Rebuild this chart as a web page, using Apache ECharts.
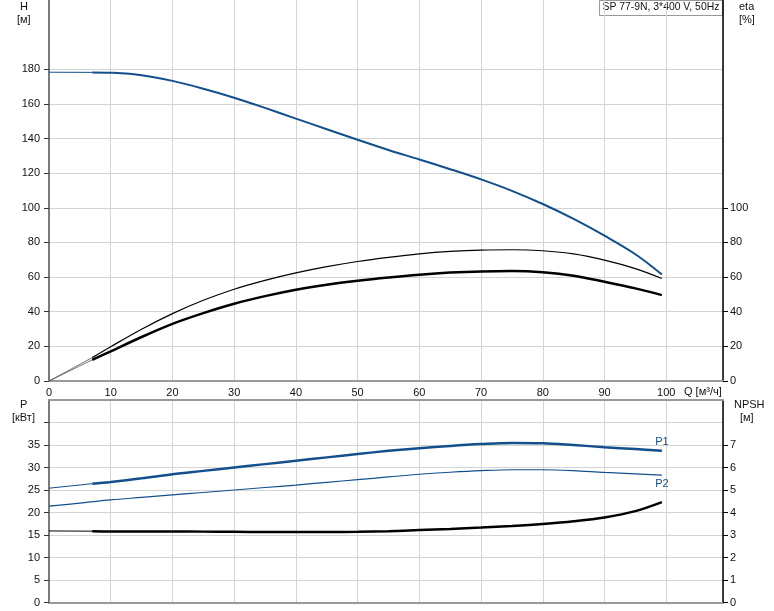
<!DOCTYPE html>
<html>
<head>
<meta charset="utf-8">
<script src="https://cdn.jsdelivr.net/npm/echarts@6/dist/echarts.min.js"></script>
<style>
html,body{margin:0;padding:0;background:#fff;}
#chart{width:774px;height:611px;}
</style>
</head>
<body>
<div id="chart"></div>
<script>
// ---- data ----
const title = 'SP 77-9N, 3*400 V, 50Hz';
const qTicks = [0, 10, 20, 30, 40, 50, 60, 70, 80, 90, 100];
const hTicks = [0, 20, 40, 60, 80, 100, 120, 140, 160, 180];
const etaTicks = [0, 20, 40, 60, 80, 100];
const pTicks = [0, 5, 10, 15, 20, 25, 30, 35];
const pTickMarks = [0, 5, 10, 15, 20, 25, 30, 35, 40];
const npshTicks = [0, 1, 2, 3, 4, 5, 6, 7];

// extrapolated start segments (thin)
const qExt = [0, 7];
const hExt = [178.3, 178.2];
const etaPumpExt = [0, 13.5];
const etaTotalExt = [0, 12.2];
const p1Ext = [25.4, 26.4];
const npshExt = [3.18, 3.17];

// main curves (Q in m³/h)
const qMain = [7, 10, 15, 20, 25, 30, 35, 40, 45, 50, 55, 60, 65, 70, 75, 80, 85, 90, 95, 99.3];
const hVals = [178.2, 178, 176.6, 173.3, 168.8, 163.6, 157.7, 151.5, 145.4, 139.3, 133.4, 127.9, 122.3, 116.4, 109.8, 102.2, 93.6, 83.9, 73.2, 61.5];
const etaPump = [13.5, 19.8, 29.9, 38.9, 46.6, 53, 58.1, 62.4, 66, 69, 71.4, 73.4, 74.8, 75.6, 75.8, 75.2, 73.4, 69.8, 64.9, 59.2];
const etaTotal = [12.2, 17.1, 25.4, 33, 39.2, 44.6, 49, 52.7, 55.6, 57.9, 59.8, 61.4, 62.6, 63.3, 63.5, 62.8, 60.8, 57.3, 53.5, 49.6];
const p1Vals = [26.4, 26.8, 27.6, 28.5, 29.25, 30.0, 30.75, 31.5, 32.25, 33, 33.7, 34.3, 34.8, 35.2, 35.45, 35.4, 35.0, 34.5, 34.1, 33.7];
const npshVals = [3.17, 3.16, 3.16, 3.16, 3.15, 3.14, 3.13, 3.13, 3.13, 3.14, 3.17, 3.22, 3.27, 3.33, 3.4, 3.49, 3.61, 3.78, 4.06, 4.46];

const qP2 = [0, 5, 10, 15, 20, 25, 30, 35, 40, 45, 50, 55, 60, 65, 70, 75, 80, 85, 90, 95, 99.3];
const p2Vals = [21.4, 22.1, 22.8, 23.35, 23.9, 24.45, 25, 25.55, 26.1, 26.7, 27.3, 27.9, 28.5, 28.95, 29.3, 29.5, 29.5, 29.3, 28.9, 28.6, 28.3];

// ---- helpers ----
const zip = (xs, ys) => xs.map((x, i) => [x, ys[i]]);
const BLUE = '#124f8c';
const FONT = 'Liberation Sans';
const gridLine = {show: true, lineStyle: {color: '#d4d4d4', width: 1}};
const labelStyle = {color: '#111', fontSize: 11, fontFamily: FONT};

const chart = echarts.init(document.getElementById('chart'), null, {renderer: 'canvas'});

function line(data, xi, yi, color, width, smooth) {
  return {
    type: 'line', xAxisIndex: xi, yAxisIndex: yi, data: data,
    showSymbol: false, symbol: 'none',
    smooth: smooth === undefined ? 0.35 : smooth,
    lineStyle: {color: color, width: width}, silent: true, animation: false, z: 5
  };
}

function endName(series, text, pos) {
  const lastPt = series.data[series.data.length - 1];
  series.markPoint = {
    silent: true, animation: false,
    symbol: 'circle', symbolSize: 1,
    itemStyle: {color: 'rgba(0,0,0,0)'},
    label: {show: true, formatter: text, position: pos, distance: 3, color: BLUE, fontSize: 11, fontFamily: FONT},
    data: [{coord: lastPt}]
  };
  return series;
}

const option = {
  animation: false,
  backgroundColor: '#fff',
  grid: [
    {left: 49, right: 51, top: 0, height: 381},
    {left: 49, right: 51, top: 400, height: 202.5}
  ],
  xAxis: [
    {gridIndex: 0, type: 'value', min: 0, max: 109.2, interval: 10,
      axisLine: {show: true, onZero: false, lineStyle: {color: '#9a9a9a', width: 2}},
      axisTick: {show: false},
      axisLabel: Object.assign({margin: 6, customValues: qTicks}, labelStyle),
      splitLine: gridLine},
    {gridIndex: 1, type: 'value', min: 0, max: 109.2, interval: 10,
      axisLine: {show: true, onZero: false, lineStyle: {color: '#9a9a9a', width: 2}},
      axisTick: {show: false}, axisLabel: {show: false},
      splitLine: gridLine},
    {gridIndex: 1, type: 'value', position: 'top', min: 0, max: 109.2, interval: 10,
      axisLine: {show: true, onZero: false, lineStyle: {color: '#9a9a9a', width: 2}},
      axisTick: {show: false}, axisLabel: {show: false}, splitLine: {show: false}}
  ],
  yAxis: [
    {gridIndex: 0, type: 'value', min: 0, max: 220, interval: 20, position: 'left',
      axisLine: {show: true, onZero: false, lineStyle: {color: '#7a7a7a', width: 2}},
      axisTick: {show: true, length: 5, customValues: hTicks, lineStyle: {color: '#333'}},
      axisLabel: Object.assign({margin: 9, customValues: hTicks}, labelStyle),
      splitLine: gridLine},
    {gridIndex: 0, type: 'value', min: 0, max: 220, interval: 20, position: 'right',
      axisLine: {show: true, onZero: false, lineStyle: {color: '#000', width: 1.5}},
      axisTick: {show: true, length: 5, customValues: etaTicks, lineStyle: {color: '#000'}},
      axisLabel: Object.assign({margin: 7, customValues: etaTicks}, labelStyle),
      splitLine: {show: false}},
    {gridIndex: 1, type: 'value', min: 0, max: 45, interval: 5, position: 'left',
      axisLine: {show: true, onZero: false, lineStyle: {color: '#7a7a7a', width: 2}},
      axisTick: {show: true, length: 5, customValues: pTickMarks, lineStyle: {color: '#333'}},
      axisLabel: Object.assign({margin: 9, customValues: pTicks}, labelStyle),
      splitLine: gridLine},
    {gridIndex: 1, type: 'value', min: 0, max: 9, interval: 1, position: 'right',
      axisLine: {show: true, onZero: false, lineStyle: {color: '#000', width: 1.5}},
      axisTick: {show: true, length: 5, customValues: npshTicks, lineStyle: {color: '#000'}},
      axisLabel: Object.assign({margin: 7, customValues: npshTicks}, labelStyle),
      splitLine: {show: false}}
  ],
  series: [
    line(zip(qExt, hExt), 0, 0, BLUE, 1, false),
    line(zip(qMain, hVals), 0, 0, BLUE, 2),
    line(zip(qExt, etaPumpExt), 0, 1, '#555', 0.8, false),
    line(zip(qMain, etaPump), 0, 1, '#000', 1.2),
    line(zip(qExt, etaTotalExt), 0, 1, '#555', 0.8, false),
    line(zip(qMain, etaTotal), 0, 1, '#000', 2.5),
    line(zip(qExt, p1Ext), 1, 2, BLUE, 1, false),
    endName(line(zip(qMain, p1Vals), 1, 2, BLUE, 2.5), 'P1', 'top'),
    endName(line(zip(qP2, p2Vals), 1, 2, BLUE, 1.2), 'P2', 'bottom'),
    line(zip(qExt, npshExt), 1, 3, '#000', 1, false),
    line(zip(qMain, npshVals), 1, 3, '#000', 2.5)
  ],
  graphic: [
    {type: 'text', left: 20, top: 1, style: {text: 'H', fill: '#111', font: '11px "Liberation Sans"'}},
    {type: 'text', left: 17, top: 14, style: {text: '[м]', fill: '#111', font: '11px "Liberation Sans"'}},
    {type: 'text', left: 739, top: 1, style: {text: 'eta', fill: '#111', font: '11px "Liberation Sans"'}},
    {type: 'text', left: 739, top: 14, style: {text: '[%]', fill: '#111', font: '11px "Liberation Sans"'}},
    {type: 'text', left: 20, top: 399, style: {text: 'P', fill: '#111', font: '11px "Liberation Sans"'}},
    {type: 'text', left: 12, top: 412, style: {text: '[кВт]', fill: '#111', font: '11px "Liberation Sans"'}},
    {type: 'text', left: 734, top: 399, style: {text: 'NPSH', fill: '#111', font: '11px "Liberation Sans"'}},
    {type: 'text', left: 740, top: 412, style: {text: '[м]', fill: '#111', font: '11px "Liberation Sans"'}},
    {type: 'text', left: 684, top: 386, style: {text: 'Q [м³/ч]', fill: '#111', font: '11px "Liberation Sans"'}},
    {type: 'group', left: 599, top: 0, z: 100, children: [
      {type: 'rect', shape: {x: 0, y: 0, width: 123, height: 15}, style: {fill: '#fff', stroke: '#999', lineWidth: 1}},
      {type: 'text', x: 3, y: 2, style: {text: title, fill: '#111', font: '10.4px "Liberation Sans"'}}
    ]}
  ]
};
chart.setOption(option);
</script>
</body>
</html>
